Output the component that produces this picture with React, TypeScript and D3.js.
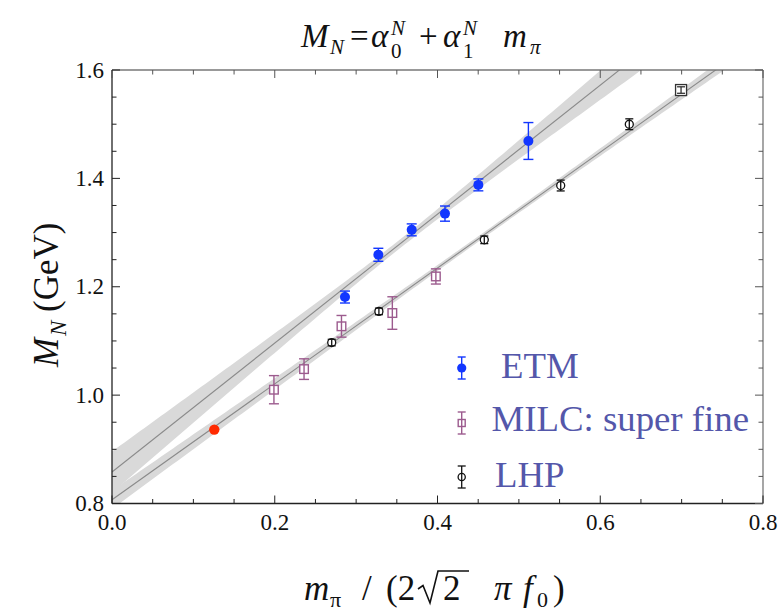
import React from "react";
import * as d3 from "d3";

// ---------- data ----------
const etmX = [0.2863, 0.3273, 0.3683, 0.4092, 0.4502, 0.5117];
const etmY = [1.181, 1.259, 1.305, 1.335, 1.388, 1.469];
const etmErr = [0.011, 0.012, 0.011, 0.014, 0.011, 0.034];

const milcX = [0.199, 0.236, 0.282, 0.3445, 0.398];
const milcY = [1.010, 1.048, 1.127, 1.1515, 1.219];
const milcErr = [0.026, 0.019, 0.020, 0.030, 0.014];

const lhpX = [0.270, 0.328, 0.4575, 0.5514, 0.6357];
const lhpY = [1.097, 1.1545, 1.2866, 1.3868, 1.4999];
const lhpErr = [0.006, 0.006, 0.007, 0.010, 0.010];

const lhpSqX = [0.6993];
const lhpSqY = [1.563];
const lhpSqErr = [0.006];

const physX = [0.1257];
const physY = [0.9364];

// fits: [alpha0, alpha1, sigma0, sigma1, correlation]
const fitUpper = [0.858, 1.19, 0.038, 0.105, -0.977];
const fitLower = [0.807, 1.069, 0.017, 0.0352, -0.956];

const xMajorTicks = [0.0, 0.2, 0.4, 0.6, 0.8];
const yMajorTicks = [0.8, 1.0, 1.2, 1.4, 1.6];
const legendLabels = ["ETM", "MILC: super fine", "LHP"];

// ---------- layout ----------
const W = 781, H = 613;
const L = 112, R = 763, T = 70, B = 503.5;
const x = d3.scaleLinear().domain([0, 0.8]).range([L, R]);
const y = d3.scaleLinear().domain([0.8, 1.6]).range([B, T]);

const BLUE = "#1236ff";
const PURPLE = "#9c5b8e";
const RED = "#ff2a00";
const LEG = "#5457aa";
const FONT = "'Liberation Serif', 'Times New Roman', serif";

function bandPath(f: number[]) {
  const [a0, a1, s0, s1, r] = f;
  const xs = x.ticks(160);
  const sig = (v: number) => Math.sqrt(s0 * s0 + 2 * r * s0 * s1 * v + s1 * s1 * v * v);
  const area = d3
    .area<number>()
    .x((v) => x(v))
    .y0((v) => y(a0 + a1 * v - sig(v)))
    .y1((v) => y(a0 + a1 * v + sig(v)));
  return area(xs) || "";
}
function linePath(f: number[]) {
  const [a0, a1] = f;
  const line = d3.line<number>().x((v) => x(v)).y((v) => y(a0 + a1 * v));
  return line([0, 0.8]) || "";
}

function ErrBar({ cx, lo, hi, cap, color, w = 1.4 }: any) {
  return (
    <g stroke={color} strokeWidth={w} fill="none">
      <line x1={cx} x2={cx} y1={lo} y2={hi} />
      <line x1={cx - cap} x2={cx + cap} y1={lo} y2={lo} />
      <line x1={cx - cap} x2={cx + cap} y1={hi} y2={hi} />
    </g>
  );
}

export default function App() {
  const minorX = x.ticks(16);
  const minorY = y.ticks(16);
  return (
    <svg
      width={W}
      height={H}
      style={{ position: "absolute", left: 0, top: 0, background: "#fff" }}
      fontFamily={FONT}
    >
      <defs>
        <clipPath id="plot">
          <rect x={L} y={T} width={R - L} height={B - T} />
        </clipPath>
      </defs>

      <g clipPath="url(#plot)">
        <path d={bandPath(fitUpper)} fill="#d9d9d9" />
        <path d={bandPath(fitLower)} fill="#d9d9d9" />
        <path d={linePath(fitUpper)} stroke="#8a8a8a" strokeWidth={1.1} fill="none" />
        <path d={linePath(fitLower)} stroke="#8a8a8a" strokeWidth={1.1} fill="none" />
      </g>

      {/* frame */}
      <line x1={L} x2={R} y1={T} y2={T} stroke="#777" strokeWidth={1.3} />
      <line x1={R} x2={R} y1={T} y2={B} stroke="#777" strokeWidth={1.3} />
      <line x1={L} x2={L} y1={T} y2={B} stroke="#222" strokeWidth={1.3} />
      <line x1={L} x2={R} y1={B} y2={B} stroke="#222" strokeWidth={1.3} />

      {/* ticks */}
      {minorX.map((t, i) => {
        const major = xMajorTicks.some((m) => Math.abs(m - t) < 1e-9);
        const len = major ? 8 : 4.5;
        return (
          <g key={"xt" + i}>
            <line x1={x(t)} x2={x(t)} y1={B} y2={B - len} stroke="#222" strokeWidth={1} />
            <line x1={x(t)} x2={x(t)} y1={T} y2={T + len} stroke="#555" strokeWidth={1} />
          </g>
        );
      })}
      {minorY.map((t, i) => {
        const major = yMajorTicks.some((m) => Math.abs(m - t) < 1e-9);
        const len = major ? 8 : 4.5;
        return (
          <g key={"yt" + i}>
            <line x1={L} x2={L + len} y1={y(t)} y2={y(t)} stroke="#222" strokeWidth={1} />
            <line x1={R} x2={R - len} y1={y(t)} y2={y(t)} stroke="#555" strokeWidth={1} />
          </g>
        );
      })}

      {/* tick labels */}
      {xMajorTicks.map((t) => (
        <text key={"xl" + t} x={x(t)} y={B + 26} textAnchor="middle" fontSize={23} fill="#111">
          {d3.format(".1f")(t)}
        </text>
      ))}
      {yMajorTicks.map((t) => (
        <text key={"yl" + t} x={104} y={y(t) + 7.5} textAnchor="end" fontSize={23} fill="#111">
          {d3.format(".1f")(t)}
        </text>
      ))}

      {/* LHP */}
      {lhpX.map((v, i) => (
        <g key={"lhp" + i}>
          <circle cx={x(v)} cy={y(lhpY[i])} r={4} fill="#fff" stroke="#111" strokeWidth={1.3} />
          <ErrBar cx={x(v)} lo={y(lhpY[i] - lhpErr[i])} hi={y(lhpY[i] + lhpErr[i])} cap={4} color="#111" w={1.3} />
        </g>
      ))}
      {lhpSqX.map((v, i) => (
        <g key={"lsq" + i}>
          <rect x={x(v) - 5.5} y={y(lhpSqY[i]) - 5.5} width={11} height={11} fill="#fff" stroke="#333" strokeWidth={1.3} />
          <ErrBar cx={x(v)} lo={y(lhpSqY[i] - lhpSqErr[i])} hi={y(lhpSqY[i] + lhpSqErr[i])} cap={4} color="#333" w={1.3} />
        </g>
      ))}

      {/* MILC */}
      {milcX.map((v, i) => (
        <g key={"milc" + i}>
          <rect x={x(v) - 4.3} y={y(milcY[i]) - 4.3} width={8.6} height={8.6} fill="#fff" stroke={PURPLE} strokeWidth={1.4} />
          <ErrBar cx={x(v)} lo={y(milcY[i] - milcErr[i])} hi={y(milcY[i] + milcErr[i])} cap={5} color={PURPLE} w={1.4} />
        </g>
      ))}

      {/* ETM */}
      {etmX.map((v, i) => (
        <g key={"etm" + i}>
          <ErrBar cx={x(v)} lo={y(etmY[i] - etmErr[i])} hi={y(etmY[i] + etmErr[i])} cap={5} color={BLUE} w={1.4} />
          <circle cx={x(v)} cy={y(etmY[i])} r={5} fill={BLUE} />
        </g>
      ))}

      {/* physical point */}
      {physX.map((v, i) => (
        <circle key={"ph" + i} cx={x(v)} cy={y(physY[i])} r={5.2} fill={RED} />
      ))}

      {/* legend */}
      <g>
        <ErrBar cx={461.7} lo={379} hi={357} cap={4} color={BLUE} w={1.4} />
        <circle cx={461.7} cy={368} r={4.6} fill={BLUE} />
        <rect x={458.2} y={419.5} width={7} height={7} fill="#fff" stroke={PURPLE} strokeWidth={1.4} />
        <ErrBar cx={461.7} lo={434} hi={412} cap={4} color={PURPLE} w={1.4} />
        <circle cx={461.7} cy={477} r={3.6} fill="#fff" stroke="#111" strokeWidth={1.3} />
        <ErrBar cx={461.7} lo={488} hi={466} cap={4} color="#111" w={1.3} />
        <text x={501} y={378} fontSize={36.8} fill={LEG}>{legendLabels[0]}</text>
        <text x={491.5} y={431} fontSize={36.8} fill={LEG}>{legendLabels[1]}</text>
        <text x={495} y={487} fontSize={36.8} fill={LEG}>{legendLabels[2]}</text>
      </g>

      {/* title */}
      <g fontSize={33} fill="#111">
        <text x={301} y={47} fontStyle="italic">M</text>
        <text x={330} y={54} fontSize={21} fontStyle="italic">N</text>
        <text x={350} y={47}>=</text>
        <text x={371} y={47} fontStyle="italic">α</text>
        <text x={391} y={35} fontSize={21} fontStyle="italic">N</text>
        <text x={391} y={58} fontSize={21}>0</text>
        <text x={419} y={47}>+</text>
        <text x={443} y={47} fontStyle="italic">α</text>
        <text x={463} y={35} fontSize={21} fontStyle="italic">N</text>
        <text x={463} y={58} fontSize={21}>1</text>
        <text x={503} y={47} fontStyle="italic">m</text>
        <text x={530} y={54} fontSize={21} fontStyle="italic">π</text>
      </g>

      {/* x label */}
      <g fontSize={35} fill="#111">
        <text x={304} y={600} fontStyle="italic">m</text>
        <text x={330} y={607} fontSize={22}>π</text>
        <text x={362} y={600}>/</text>
        <text x={386} y={600}>(2</text>
        <path d="M418,589 L423,585.5 L430,603 L438,571 L469,571" stroke="#111" strokeWidth={1.6} fill="none" />
        <text x={443} y={600}>2</text>
        <text x={494} y={600} fontStyle="italic">π</text>
        <text x={523} y={600} fontStyle="italic">f</text>
        <text x={537} y={607} fontSize={22}>0</text>
        <text x={553} y={600}>)</text>
      </g>

      {/* y label */}
      <g transform="translate(58,295) rotate(-90)" fontSize={35} fill="#111">
        <text x={-72} y={0} fontStyle="italic">M</text>
        <text x={-41} y={8} fontSize={23} fontStyle="italic">N</text>
        <text x={-17} y={0}>(GeV)</text>
      </g>
    </svg>
  );
}
